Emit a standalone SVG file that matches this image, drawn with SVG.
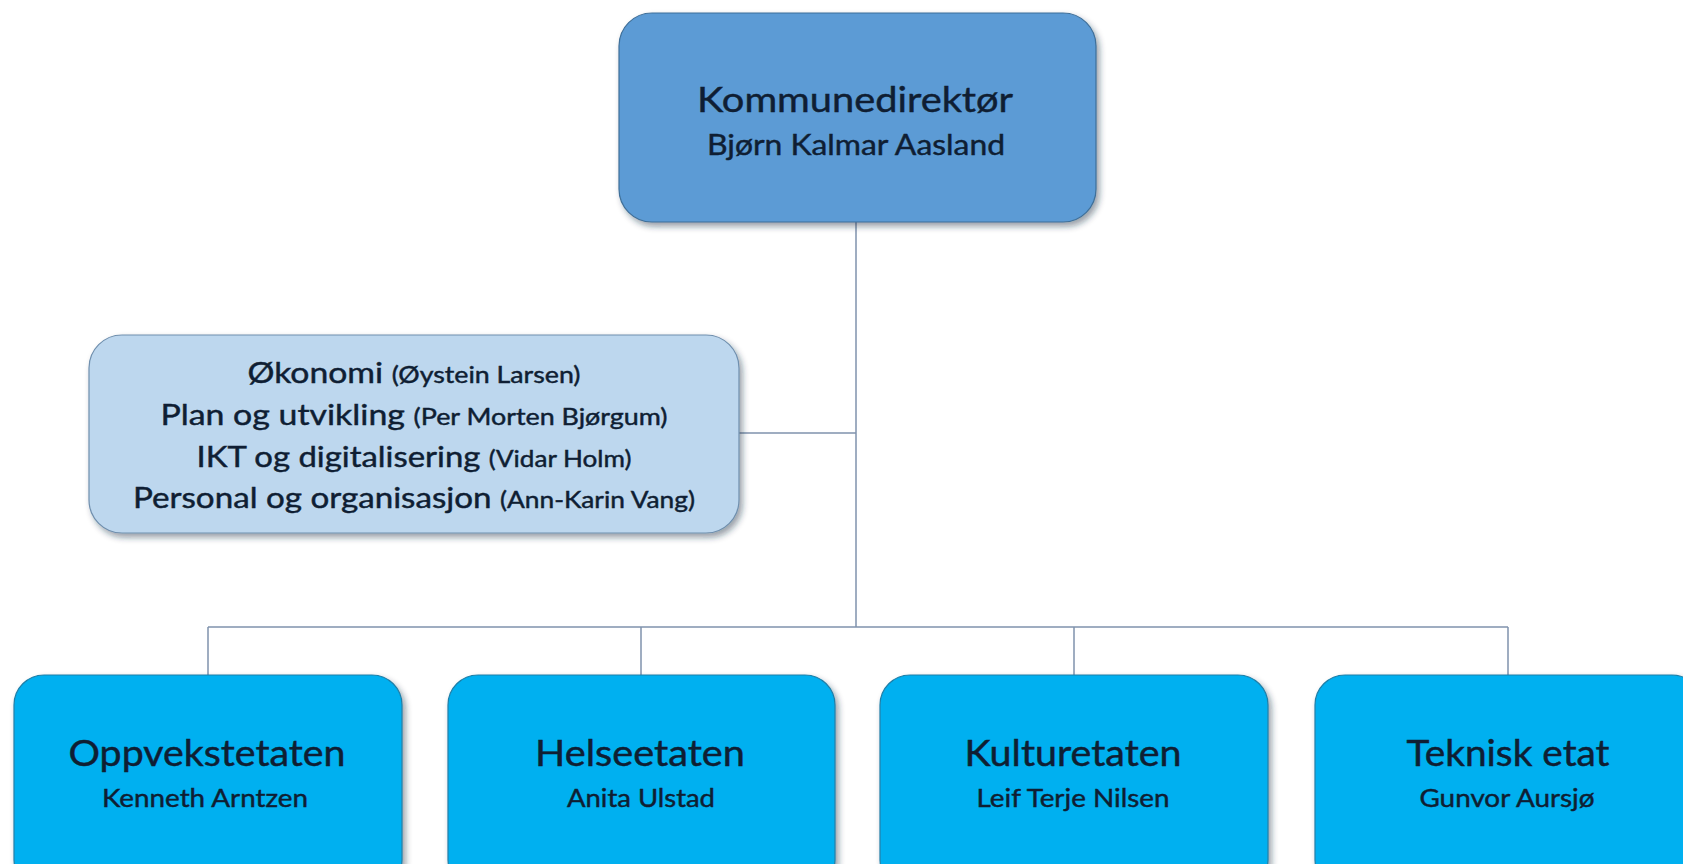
<svg xmlns="http://www.w3.org/2000/svg" width="1683" height="864" viewBox="0 0 1683 864">
<defs>
<filter id="sh" x="-10%" y="-10%" width="125%" height="130%">
<feDropShadow dx="3" dy="4" stdDeviation="3" flood-color="#1a2a40" flood-opacity="0.45"/>
</filter>
<style>
.t{font-family:Lato,"Liberation Sans",sans-serif;fill:#0f1e33;stroke:#0f1e33;stroke-width:0.45;text-anchor:middle}
.box{stroke:#3f6f99;stroke-width:1.2;filter:url(#sh)}
.top{fill:#5b9bd5}
.side{fill:#bdd7ee;stroke:#6f8fae}
.dept{fill:#00b0f0;stroke:#1f7fa8}
.con{stroke:#8093ad;stroke-width:1.5;fill:none}
.sm{font-size:23px}
</style>
</defs>
<rect width="1683" height="864" fill="#ffffff"/>
<g id="connectors">
<path class="con" d="M856 222V627M739 433H856M208 627H1508M208 627V675M641 627V675M1074 627V675M1508 627V675"/>
</g>
<g id="kommunedirektor">
<rect class="box top" x="619" y="13" width="477" height="209" rx="33"/>
<text class="t" x="855" y="112" font-size="35" textLength="316" lengthAdjust="spacingAndGlyphs">Kommunedirektør</text>
<text class="t" x="856" y="155" font-size="29" textLength="298" lengthAdjust="spacingAndGlyphs">Bjørn Kalmar Aasland</text>
</g>
<g id="stab">
<rect class="box side" x="89" y="335" width="650" height="198" rx="33"/>
<text class="t" x="414" y="383" font-size="29" textLength="333" lengthAdjust="spacingAndGlyphs">Økonomi <tspan class="sm">(Øystein Larsen)</tspan></text>
<text class="t" x="414" y="425" font-size="29" textLength="507" lengthAdjust="spacingAndGlyphs">Plan og utvikling <tspan class="sm">(Per Morten Bjørgum)</tspan></text>
<text class="t" x="414" y="467" font-size="29" textLength="435" lengthAdjust="spacingAndGlyphs">IKT og digitalisering <tspan class="sm">(Vidar Holm)</tspan></text>
<text class="t" x="414" y="508" font-size="29" textLength="562" lengthAdjust="spacingAndGlyphs">Personal og organisasjon <tspan class="sm">(Ann-Karin Vang)</tspan></text>
</g>
<g id="oppvekst">
<rect class="box dept" x="14" y="675" width="388" height="215" rx="30"/>
<text class="t" x="207" y="766" font-size="36" textLength="277" lengthAdjust="spacingAndGlyphs">Oppvekstetaten</text>
<text class="t" x="205" y="807" font-size="25" textLength="206" lengthAdjust="spacingAndGlyphs">Kenneth Arntzen</text>
</g>
<g id="helse">
<rect class="box dept" x="448" y="675" width="387" height="215" rx="30"/>
<text class="t" x="640" y="766" font-size="36" textLength="210" lengthAdjust="spacingAndGlyphs">Helseetaten</text>
<text class="t" x="641" y="807" font-size="25" textLength="148" lengthAdjust="spacingAndGlyphs">Anita Ulstad</text>
</g>
<g id="kultur">
<rect class="box dept" x="880" y="675" width="388" height="215" rx="30"/>
<text class="t" x="1073" y="766" font-size="36" textLength="217" lengthAdjust="spacingAndGlyphs">Kulturetaten</text>
<text class="t" x="1073" y="807" font-size="25" textLength="193" lengthAdjust="spacingAndGlyphs">Leif Terje Nilsen</text>
</g>
<g id="teknisk">
<rect class="box dept" x="1315" y="675" width="387" height="215" rx="30"/>
<text class="t" x="1508" y="766" font-size="36" textLength="203" lengthAdjust="spacingAndGlyphs">Teknisk etat</text>
<text class="t" x="1507" y="807" font-size="25" textLength="175" lengthAdjust="spacingAndGlyphs">Gunvor Aursjø</text>
</g>
</svg>
